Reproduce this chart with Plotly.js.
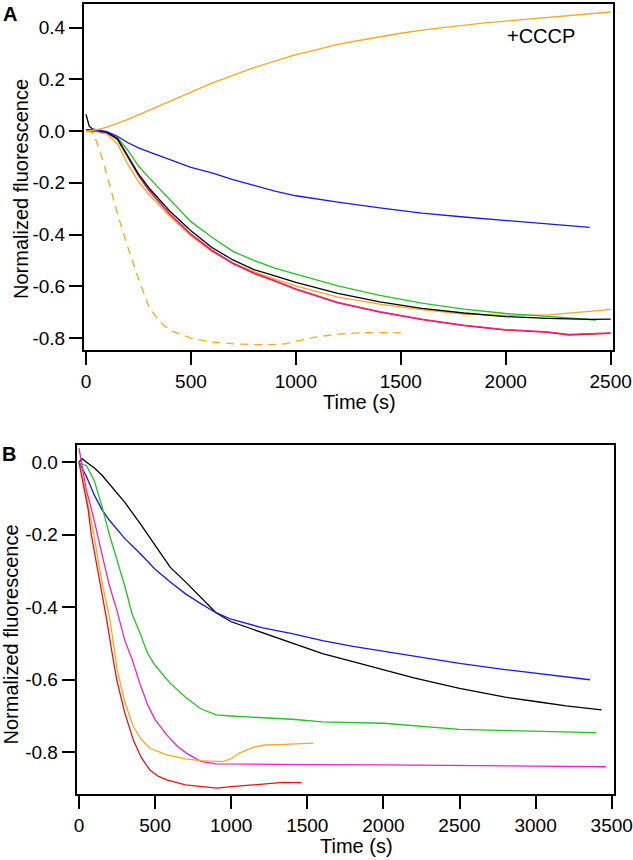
<!DOCTYPE html>
<html>
<head>
<meta charset="utf-8">
<script src="https://cdn.plot.ly/plotly-3.0.1.min.js"></script>
<style>html,body{margin:0;padding:0;background:#fff;}#chart{width:633px;height:860px;}</style>
</head>
<body>
<div id="chart"></div>
<script>
// ---------- Panel A data ----------
const tA_cccp = [0,50,100,200,300,400,500,600,700,800,900,1000,1100,1200,1300,1400,1500,1600,1700,1800,1900,2000,2100,2200,2300,2400,2500];
const yA_cccp = [0,0.005,0.015,0.045,0.08,0.115,0.15,0.185,0.215,0.245,0.27,0.295,0.315,0.335,0.35,0.365,0.378,0.39,0.40,0.41,0.418,0.425,0.432,0.44,0.447,0.455,0.46];

const tA_blue = [0,50,100,150,200,250,300,400,500,600,700,800,900,1000,1200,1400,1600,1800,2000,2200,2400];
const yA_blue = [0.005,0.005,-0.002,-0.02,-0.045,-0.065,-0.08,-0.11,-0.14,-0.162,-0.188,-0.21,-0.232,-0.25,-0.275,-0.297,-0.317,-0.332,-0.345,-0.36,-0.372];

const tA_orange = [0,50,100,150,200,250,300,400,500,600,700,800,900,1000,1200,1400,1600,1800,2000,2200,2400,2500];
const yA_orange = [0,-0.002,-0.012,-0.05,-0.13,-0.195,-0.245,-0.33,-0.405,-0.465,-0.51,-0.543,-0.572,-0.598,-0.642,-0.669,-0.69,-0.707,-0.712,-0.71,-0.697,-0.689];

const tA_green = [0,50,100,150,200,250,300,400,500,600,700,800,900,1000,1200,1400,1600,1800,2000,2200,2300,2430];
const yA_green = [0,0,-0.005,-0.025,-0.075,-0.135,-0.18,-0.265,-0.35,-0.41,-0.465,-0.5,-0.53,-0.553,-0.598,-0.635,-0.665,-0.688,-0.705,-0.716,-0.722,-0.73];

const tA_red = [0,50,100,150,200,250,300,400,500,600,700,800,900,1000,1200,1400,1600,1800,2000,2200,2300,2400,2500];
const yA_red = [0,0,-0.006,-0.032,-0.102,-0.172,-0.23,-0.322,-0.4,-0.462,-0.512,-0.55,-0.58,-0.612,-0.664,-0.7,-0.729,-0.752,-0.769,-0.778,-0.788,-0.784,-0.782];

const tA_magenta = [0,50,100,150,200,250,300,400,500,600,700,800,900,1000,1200,1400,1600,1800,2000,2200,2300,2400,2500];
const yA_magenta = [0,0,-0.005,-0.03,-0.1,-0.17,-0.228,-0.32,-0.398,-0.46,-0.51,-0.548,-0.578,-0.61,-0.662,-0.698,-0.727,-0.75,-0.767,-0.776,-0.786,-0.782,-0.78];

const tA_black = [0,15,30,50,100,150,200,250,300,400,500,600,700,800,900,1000,1200,1400,1600,1800,2000,2200,2400,2500];
const yA_black = [0.065,0.02,0.008,0.005,-0.005,-0.03,-0.1,-0.165,-0.22,-0.31,-0.385,-0.45,-0.498,-0.535,-0.56,-0.585,-0.627,-0.66,-0.685,-0.703,-0.717,-0.724,-0.728,-0.727];

const tA_dash = [0,30,50,75,100,150,200,250,300,350,400,500,600,700,800,900,950,1000,1100,1200,1300,1400,1510];
const yA_dash = [0,-0.005,-0.04,-0.1,-0.17,-0.32,-0.45,-0.57,-0.68,-0.735,-0.77,-0.8,-0.815,-0.822,-0.825,-0.825,-0.822,-0.812,-0.795,-0.785,-0.78,-0.778,-0.78];

// ---------- Panel B data ----------
const tB_black = [0,20,50,100,150,200,300,400,500,600,700,800,900,1000,1200,1400,1600,1800,2000,2200,2500,2800,3000,3200,3434];
const yB_black = [0,0.01,0,-0.015,-0.035,-0.06,-0.11,-0.168,-0.23,-0.29,-0.33,-0.373,-0.415,-0.44,-0.47,-0.5,-0.528,-0.55,-0.573,-0.595,-0.624,-0.648,-0.66,-0.672,-0.683];

const tB_blue = [0,25,50,100,150,200,300,400,500,600,700,800,900,1000,1200,1400,1600,1800,2000,2200,2500,2800,3000,3200,3357];
const yB_blue = [0,-0.02,-0.04,-0.09,-0.13,-0.16,-0.21,-0.251,-0.295,-0.33,-0.363,-0.39,-0.415,-0.433,-0.456,-0.473,-0.492,-0.508,-0.522,-0.535,-0.555,-0.572,-0.582,-0.592,-0.6];

const tB_green = [0,50,100,150,200,250,300,350,400,450,500,600,700,800,900,1000,1200,1400,1600,2000,2500,3000,3397];
const yB_green = [0,-0.01,-0.05,-0.12,-0.2,-0.27,-0.34,-0.42,-0.47,-0.527,-0.56,-0.61,-0.648,-0.68,-0.697,-0.7,-0.704,-0.709,-0.716,-0.72,-0.737,-0.742,-0.746];

const tB_magenta = [0,15,30,50,72,100,160,200,250,300,350,400,450,500,576,650,708,800,900,1000,1500,2000,2500,3000,3462];
const yB_magenta = [0.04,0,-0.04,-0.08,-0.113,-0.16,-0.27,-0.34,-0.41,-0.49,-0.545,-0.61,-0.668,-0.71,-0.752,-0.785,-0.803,-0.825,-0.832,-0.832,-0.834,-0.835,-0.836,-0.838,-0.84];

const tB_orange = [0,30,60,94,130,160,204,250,300,357,410,466,576,700,795,942,1000,1051,1150,1226,1350,1452,1539];
const yB_orange = [0,-0.05,-0.12,-0.19,-0.28,-0.35,-0.434,-0.57,-0.66,-0.729,-0.765,-0.789,-0.807,-0.818,-0.823,-0.826,-0.818,-0.803,-0.785,-0.78,-0.778,-0.777,-0.775];

const tB_red = [0,30,60,81,120,150,182,215,248,300,357,410,466,520,576,700,795,905,1000,1124,1250,1342,1463];
const yB_red = [0,-0.06,-0.13,-0.2,-0.29,-0.355,-0.434,-0.52,-0.6,-0.69,-0.766,-0.815,-0.849,-0.866,-0.876,-0.89,-0.895,-0.899,-0.895,-0.89,-0.886,-0.883,-0.884];

// ---------- Tick labels ----------
const xTicksA = [0,500,1000,1500,2000,2500];
const yTicksA = [-0.8,-0.6,-0.4,-0.2,0.0,0.2,0.4];
const yTickTextA = ['-0.8','-0.6','-0.4','-0.2','0.0','0.2','0.4'];
const xTicksB = [0,500,1000,1500,2000,2500,3000,3500];
const yTicksB = [-0.8,-0.6,-0.4,-0.2,0.0];
const yTickTextB = ['-0.8','-0.6','-0.4','-0.2','0.0'];

const C = {orange:'#f9a91f', blue:'#1a1ae0', green:'#22c322', red:'#ee1111', magenta:'#ee22cc', pink:'#f0208c', black:'#000000'};
const LW = 1.3;

function tr(x, y, color, ax, dash) {
  return {x:x, y:y, type:'scatter', mode:'lines', xaxis:ax[0], yaxis:ax[1],
          line:{color:color, width:LW, dash:dash||'solid'}, hoverinfo:'skip'};
}
const A = ['x','y'], B = ['x2','y2'];
const data = [
  tr(tA_orange, yA_orange, C.orange, A),
  tr(tA_green, yA_green, C.green, A),
  tr(tA_red, yA_red, C.red, A),
  tr(tA_magenta, yA_magenta, C.pink, A),
  tr(tA_black, yA_black, C.black, A),
  tr(tA_blue, yA_blue, C.blue, A),
  tr(tA_cccp, yA_cccp, C.orange, A),
  tr(tA_dash, yA_dash, C.orange, A, '8px,6px'),
  tr(tB_black, yB_black, C.black, B),
  tr(tB_blue, yB_blue, C.blue, B),
  tr(tB_green, yB_green, C.green, B),
  tr(tB_magenta, yB_magenta, C.magenta, B),
  tr(tB_orange, yB_orange, C.orange, B),
  tr(tB_red, yB_red, C.red, B)
];

const FONT = 'Liberation Sans, Arial, Helvetica, sans-serif';
const W = 633, H = 860;
const px = v => v / W, py = v => 1 - v / H;
const axBase = {
  showline:true, linecolor:'#000', linewidth:2, mirror:true,
  ticks:'outside', ticklen:13, tickwidth:2, tickcolor:'#000',
  showgrid:false, zeroline:false,
  tickfont:{family:FONT, size:19, color:'#000'}
};

const layout = {
  width:W, height:H,
  margin:{l:0, r:0, t:0, b:0},
  paper_bgcolor:'#fff', plot_bgcolor:'#fff',
  showlegend:false,
  font:{family:FONT, color:'#000'},
  xaxis: Object.assign({}, axBase, {domain:[px(84), px(613)], range:[-9.5, 2511], tickvals:xTicksA, anchor:'y'}),
  yaxis: Object.assign({}, axBase, {domain:[py(350), py(4)], range:[-0.846, 0.491], tickvals:yTicksA, ticktext:yTickTextA, anchor:'x'}),
  xaxis2: Object.assign({}, axBase, {domain:[px(76.7), px(614)], range:[-15, 3515], tickvals:xTicksB, anchor:'y2'}),
  yaxis2: Object.assign({}, axBase, {domain:[py(794.3), py(445)], range:[-0.916, 0.0477], tickvals:yTicksB, ticktext:yTickTextB, anchor:'x2'}),
  annotations: [
    {text:'<b>A</b>', xref:'paper', yref:'paper', x:px(9.5), y:py(13.5), xanchor:'center', yanchor:'middle', showarrow:false, font:{family:FONT, size:20}},
    {text:'<b>B</b>', xref:'paper', yref:'paper', x:px(8.5), y:py(453.7), xanchor:'center', yanchor:'middle', showarrow:false, font:{family:FONT, size:20}},
    {text:'+CCCP', xref:'x', yref:'y', x:2170, y:0.369, xanchor:'center', yanchor:'middle', showarrow:false, font:{family:FONT, size:20}},
    {text:'Time (s)', xref:'paper', yref:'paper', x:px(359.7), y:py(402), xanchor:'center', yanchor:'middle', showarrow:false, font:{family:FONT, size:20}},
    {text:'Time (s)', xref:'paper', yref:'paper', x:px(356.7), y:py(846), xanchor:'center', yanchor:'middle', showarrow:false, font:{family:FONT, size:20}},
    {text:'Normalized fluorescence', xref:'paper', yref:'paper', x:px(21), y:py(189), xanchor:'center', yanchor:'middle', textangle:-90, showarrow:false, font:{family:FONT, size:20}},
    {text:'Normalized fluorescence', xref:'paper', yref:'paper', x:px(10.5), y:py(635), xanchor:'center', yanchor:'middle', textangle:-90, showarrow:false, font:{family:FONT, size:20}}
  ]
};

Plotly.newPlot('chart', data, layout, {staticPlot:true, displayModeBar:false});
</script>
</body>
</html>
